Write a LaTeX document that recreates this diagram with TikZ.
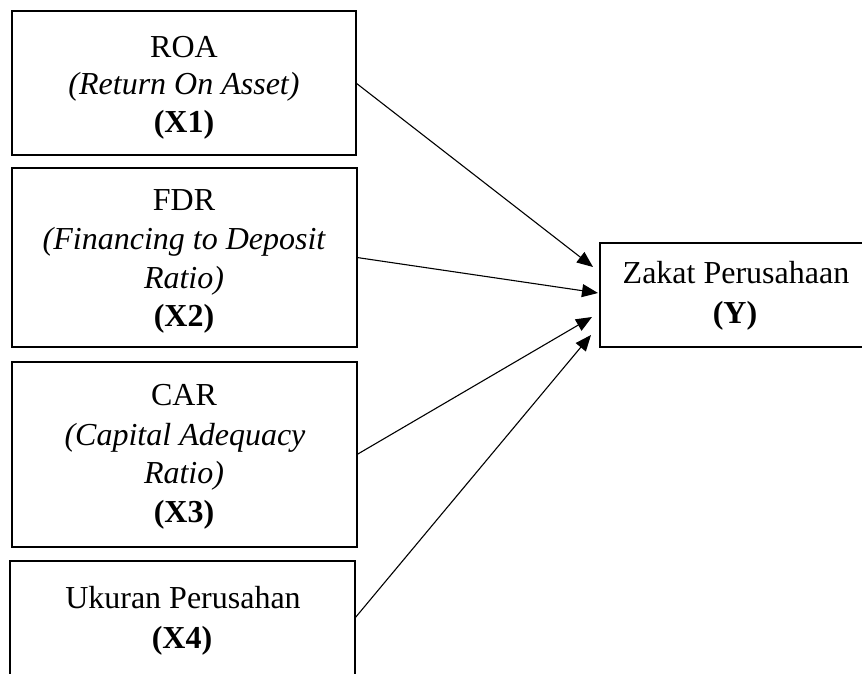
\documentclass[tikz,border=0pt]{standalone}
\usepackage{fontspec}
\setmainfont{Liberation Serif}
\usetikzlibrary{arrows.meta}
\begin{document}
\begin{tikzpicture}[x=1pt,y=-1pt,
  box/.style={draw,line width=2.2pt,rectangle,inner sep=0pt,outer sep=0pt},
  txt/.style={anchor=base,inner sep=0pt,font=\fontsize{32}{37}\selectfont},
  itx/.style={txt,font=\fontsize{32}{37}\selectfont\itshape},
  btx/.style={txt,font=\fontsize{32}{37}\selectfont\bfseries},
  conn/.style={line width=1.1pt,-{Triangle[length=16pt,width=13pt]}}]
\useasboundingbox (0,0) rectangle (862,674);
\clip (0,0) rectangle (862,674);
% boxes
\node[box,minimum width=344pt,minimum height=144pt] (b1) at (184,83) {};
\node[box,minimum width=345pt,minimum height=179pt] (b2) at (184.5,257.5) {};
\node[box,minimum width=345pt,minimum height=185pt] (b3) at (184.5,454.5) {};
\node[box,minimum width=345pt,minimum height=114pt] (b4) at (182.5,618) {};
\node[box,minimum width=272pt,minimum height=104pt] (y) at (736,295) {};
% texts
\node[txt] (b1a) at (184,58) {ROA};
\node[itx] (b1b) at (184,95) {(Return On Asset)};
\node[btx] (b1c) at (184,132) {(X1)};
\node[txt] (b2a) at (184,210) {FDR};
\node[itx] (b2b) at (184,249) {(Financing to Deposit};
\node[itx] (b2c) at (184,288) {Ratio)};
\node[btx] (b2d) at (184,326) {(X2)};
\node[txt] (b3a) at (184,405) {CAR};
\node[itx] (b3b) at (185,445) {(Capital Adequacy};
\node[itx] (b3c) at (184,483) {Ratio)};
\node[btx] (b3d) at (184,522) {(X3)};
\node[txt] (b4a) at (183,608) {Ukuran Perusahan};
\node[btx] (b4b) at (182,648) {(X4)};
\node[txt] (ya) at (736,283) {Zakat Perusahaan};
\node[btx] (yb) at (735,323) {(Y)};
% arrow tips
\coordinate (t1) at (593,267);
\coordinate (t2) at (598,293);
\coordinate (t3) at (592,317);
\coordinate (t4) at (591,335);
\draw[conn] (b1.east) -- (t1);
\draw[conn] (b2.east) -- (t2);
\draw[conn] (b3.east) -- (t3);
\draw[conn] (b4.east) -- (t4);
\end{tikzpicture}
\end{document}
